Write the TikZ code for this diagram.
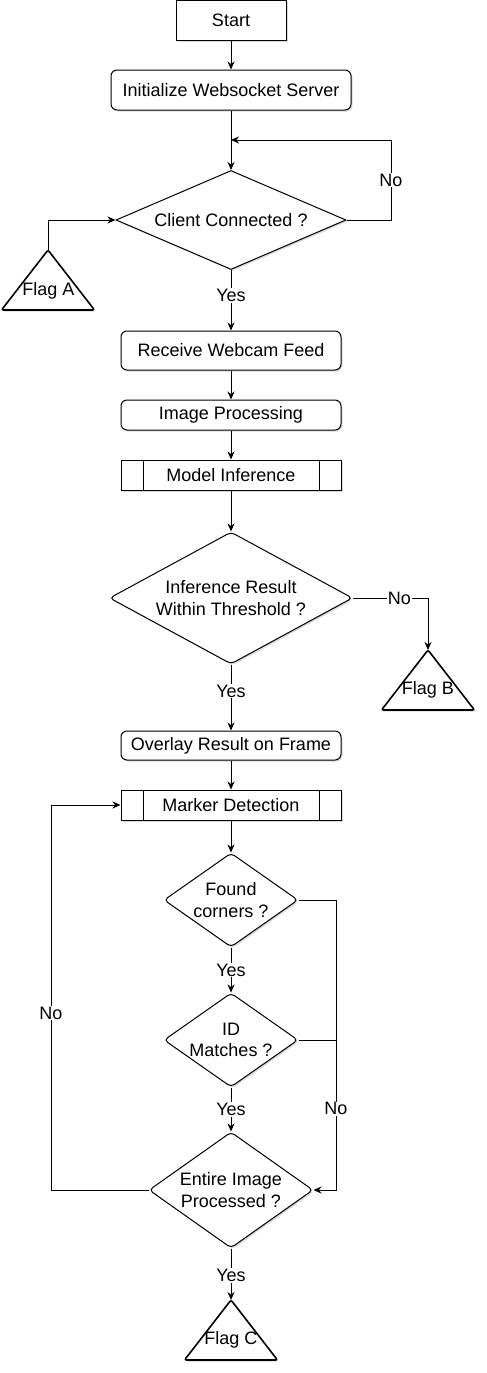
\documentclass[tikz,border=0pt]{standalone}
\usepackage{fontspec}
\setmainfont{Liberation Sans}
\usetikzlibrary{shapes.geometric,arrows.meta,shadows}

\begin{document}
\begin{tikzpicture}[x=1pt,y=-1pt,
    every node/.style={font=\fontsize{18}{21.6}\selectfont},
    softshadow/.style={drop shadow={shadow xshift=1.5pt,shadow yshift=-1.5pt,opacity=0.15,fill=black}},
    box/.style={draw,line width=1pt,fill=white,inner sep=0pt,minimum width=220pt,minimum height=30pt,softshadow},
    soft/.style={box,rounded corners=6pt},
    proc/.style={box,path picture={
        \draw[line width=1pt] ([xshift=22pt]path picture bounding box.north west) -- ([xshift=22pt]path picture bounding box.south west)
                              ([xshift=-22pt]path picture bounding box.north east) -- ([xshift=-22pt]path picture bounding box.south east);}},
    dec/.style={draw,diamond,line width=1pt,fill=white,inner sep=0pt,align=center,rounded corners=4pt,softshadow},
    arr/.style={line width=1pt,-{Stealth[length=8pt,width=7pt]}},
    link/.style={line width=1pt},
    lbl/.style={fill=white,inner sep=1pt},
    flagline/.style={line width=1.6pt,fill=white,rounded corners=2pt,softshadow}]
    \useasboundingbox (0,0) rectangle (487,1373);

    \node[box,minimum width=110pt,minimum height=40pt] (start) at (231,20) {Start};
    \node[soft,minimum width=240pt,minimum height=40pt] (init) at (231,90) {Initialize Websocket Server};
    \node[dec,sharp corners,aspect=2.32,minimum width=230pt,minimum height=99pt] (cc) at (231,220) {Client Connected ?};
    \node[soft,minimum height=39pt] (rwf) at (231,350.5) {Receive Webcam Feed};
    \node[soft] (imp) at (231,415) {Image Processing};
    \node[proc] (mi) at (231,475) {Model Inference};
    \node[dec,aspect=1.84,minimum width=243pt,minimum height=132pt] (ir) at (231,598) {Inference Result\\Within Threshold ?};
    \node[soft,minimum height=29pt] (orf) at (231,745.5) {Overlay Result on Frame};
    \node[proc] (md) at (231,805) {Marker Detection};
    \node[dec,aspect=1.43,minimum width=134pt,minimum height=94pt] (fc) at (231,900) {Found\\corners ?};
    \node[dec,aspect=1.43,minimum width=134pt,minimum height=94pt] (im) at (231,1040) {ID\\Matches ?};
    \node[dec,aspect=1.41,minimum width=164pt,minimum height=116pt] (ei) at (231,1190) {Entire Image\\Processed ?};

    \draw[flagline] (48,250) coordinate (flagAtop) -- (94.5,310) -- (1.5,310) -- cycle;
    \node (flagA) at (48.5,291) {Flag A};
    \draw[flagline] (428,650) coordinate (flagBtop) -- (474.5,710) -- (381.5,710) -- cycle;
    \node (flagB) at (428,690) {Flag B};
    \draw[flagline] (231,1300) coordinate (flagCtop) -- (277.5,1360) -- (184.5,1360) -- cycle;
    \node (flagC) at (231,1340) {Flag C};

    \coordinate (back) at (231,140);
    \coordinate (backR) at (391,140);
    \coordinate (sideR) at (336,1190);
    \coordinate (sideL) at (51,805);

    \draw[arr] (start) -- (init);
    \draw[arr] (init) -- (cc);
    \draw[arr] (cc.east) -| node[lbl,pos=0.75] {No} (backR) -- (back);
    \draw[arr] (flagAtop) |- (cc.west);
    \draw[arr] (cc) -- node[lbl,pos=0.42] {Yes} (rwf);
    \draw[arr] (rwf) -- (imp);
    \draw[arr] (imp) -- (mi);
    \draw[arr] (mi) -- (ir);
    \draw[arr] (ir.east) -| node[lbl,pos=0.31] {No} (flagBtop);
    \draw[arr] (ir) -- node[lbl,pos=0.4] {Yes} (orf);
    \draw[arr] (orf) -- (md);
    \draw[arr] (md) -- (fc);
    \draw[arr] (fc) -- node[lbl] {Yes} (im);
    \draw[arr] (im) -- node[lbl] {Yes} (ei);
    \draw[arr] (fc.east) -| node[lbl,pos=0.86] {No} (sideR) -- (ei.east);
    \draw[link] (im.east) -- (im.east -| sideR);
    \draw[arr] (ei.west) -| node[lbl,pos=0.73] {No} (sideL) -- (md.west);
    \draw[arr] (ei) -- node[lbl,pos=0.52] {Yes} (flagCtop);
\end{tikzpicture}
\end{document}
